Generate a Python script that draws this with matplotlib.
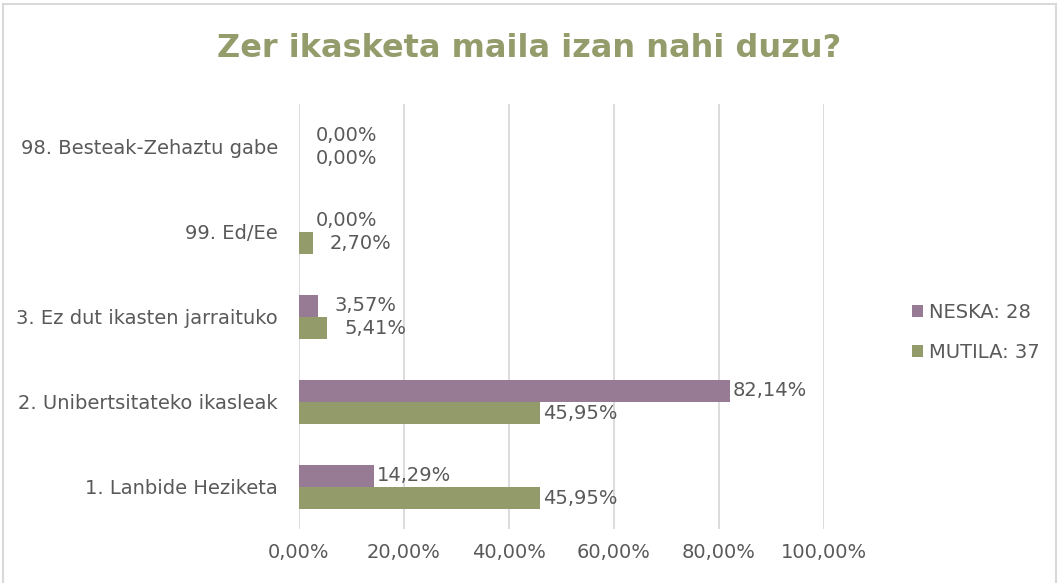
import matplotlib.pyplot as plt
import numpy as np
from matplotlib.patches import Rectangle

categories = ["1. Lanbide Heziketa", "2. Unibertsitateko ikasleak", "3. Ez dut ikasten jarraituko",
              "99. Ed/Ee", "98. Besteak-Zehaztu gabe"]
neska = [14.29, 82.14, 3.57, 0.00, 0.00]
mutila = [45.95, 45.95, 5.41, 2.70, 0.00]
series_names = ["NESKA: 28", "MUTILA: 37"]
xticks = [0, 20, 40, 60, 80, 100]

purple = "#977B95"
green = "#949B6A"
text_col = "#595959"

plt.rcParams['font.family'] = ['DejaVu Sans']

fig = plt.figure(figsize=(10.59, 5.83), dpi=100)
ax = fig.add_axes([0.2823, 0.0918, 0.4958, 0.729])

y = np.arange(len(categories))
h = 0.26
b1 = ax.barh(y + h / 2, neska, height=h, color=purple, label=series_names[0], zorder=3)
b2 = ax.barh(y - h / 2, mutila, height=h, color=green, label=series_names[1], zorder=3)

for bars in (b1, b2):
    for rect, v in zip(bars, bars.datavalues):
        off = 12 if v < 10 else 2
        ax.annotate(f"{v:.2f}%".replace(".", ","),
                    (rect.get_width(), rect.get_y() + rect.get_height() / 2),
                    xytext=(off, 0), textcoords="offset points",
                    ha="left", va="center", fontsize=14, color=text_col)

ax.set_xlim(0, 100)
ax.set_ylim(-0.5, len(categories) - 0.5)
ax.set_xticks(xticks)
ax.set_xticklabels([f"{t:.2f}%".replace(".", ",") for t in xticks])
ax.set_yticks(y)
ax.set_yticklabels(categories)
ax.tick_params(axis="both", length=0, labelsize=14, labelcolor=text_col)
ax.tick_params(axis="y", pad=15)
ax.tick_params(axis="x", pad=10)
ax.grid(axis="x", color="#D9D9D9", linewidth=1.3, zorder=0)
for s in ax.spines.values():
    s.set_visible(False)

fig.text(0.5, 0.917, "Zer ikasketa maila izan nahi duzu?", ha="center", va="center",
         fontsize=23, fontweight="bold", color="#959C6C")

leg = fig.legend(loc="center left", bbox_to_anchor=(0.845, 0.43), frameon=False,
                 fontsize=14, handlelength=0.55, handleheight=0.55, handletextpad=0.3,
                 labelspacing=1.1)
for t in leg.get_texts():
    t.set_color(text_col)

fig.patches.append(Rectangle((0.003, -0.01), 0.994, 1.003, transform=fig.transFigure,
                             fill=False, edgecolor="#D9D9D9", linewidth=1.5))

fig.savefig("out.png", dpi=100)
